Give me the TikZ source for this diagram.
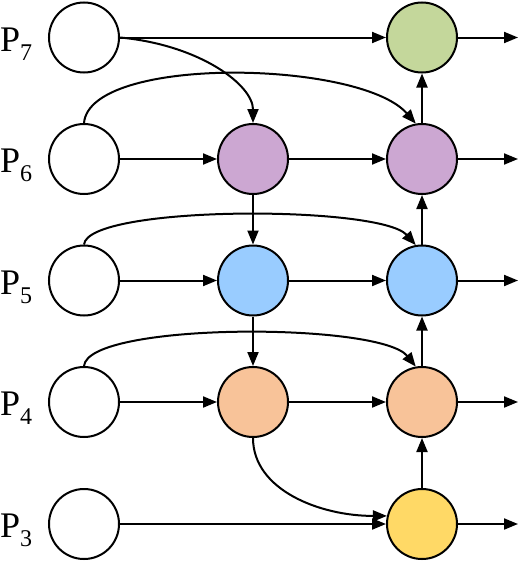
\documentclass[tikz,border=0pt]{standalone}
\usepackage{fontspec}
\setmainfont{Liberation Serif}
\usetikzlibrary{arrows.meta}
\definecolor{cgreen}{RGB}{196,215,155}
\definecolor{cpurple}{RGB}{204,167,210}
\definecolor{cblue}{RGB}{153,204,255}
\definecolor{corange}{RGB}{248,195,153}
\definecolor{cyellow}{RGB}{255,217,102}
\tikzset{
  nd/.style={circle, draw=black, line width=2pt, minimum size=70pt, inner sep=0pt},
  arr/.style={line width=2pt, -{Triangle[length=14pt,width=11pt]}},
  lbl/.style={anchor=base west, inner sep=0pt, font=\fontsize{36}{36}\selectfont},
}
\newcommand{\sublbl}[1]{P\raisebox{-0.25em}{\fontsize{24}{24}\selectfont #1}}
\begin{document}
\begin{tikzpicture}[x=1pt,y=1pt]
\useasboundingbox (0,0) rectangle (519,-570);
% left column
\node[nd, fill=white] (L7) at (84,-37.5) {};
\node[nd, fill=white] (L6) at (84,-159) {};
\node[nd, fill=white] (L5) at (84,-280.5) {};
\node[nd, fill=white] (L4) at (84,-402) {};
\node[nd, fill=white] (L3) at (84,-524) {};
% middle column
\node[nd, fill=cpurple] (M6) at (253,-159) {};
\node[nd, fill=cblue] (M5) at (253,-280.5) {};
\node[nd, fill=corange] (M4) at (253,-402) {};
% right column
\node[nd, fill=cgreen] (R7) at (422,-37.5) {};
\node[nd, fill=cpurple] (R6) at (422,-159) {};
\node[nd, fill=cblue] (R5) at (422,-280.5) {};
\node[nd, fill=corange] (R4) at (422,-402) {};
\node[nd, fill=cyellow] (R3) at (422,-524) {};
% output ends
\coordinate (O7) at (518,-37.5);
\coordinate (O6) at (518,-159);
\coordinate (O5) at (518,-280.5);
\coordinate (O4) at (518,-402);
\coordinate (O3) at (518,-524);
% labels
\node[lbl] (T7) at (0,-51) {\sublbl{7}};
\node[lbl] (T6) at (0,-172.5) {\sublbl{6}};
\node[lbl] (T5) at (0,-294) {\sublbl{5}};
\node[lbl] (T4) at (0,-415.5) {\sublbl{4}};
\node[lbl] (T3) at (0,-537.5) {\sublbl{3}};
% horizontals
\draw[arr] (L7) -- (R7);
\draw[arr] (L6) -- (M6);
\draw[arr] (M6) -- (R6);
\draw[arr] (L5) -- (M5);
\draw[arr] (M5) -- (R5);
\draw[arr] (L4) -- (M4);
\draw[arr] (M4) -- (R4);
\draw[arr] (L3) -- (R3);
\foreach \i in {7,6,5,4,3} { \draw[arr] (R\i) -- (O\i); }
% verticals
\draw[arr] (M6) -- (M5);
\draw[arr] (M5) -- (M4);
\draw[arr] (R3) -- (R4);
\draw[arr] (R4) -- (R5);
\draw[arr] (R5) -- (R6);
\draw[arr] (R6) -- (R7);
% curves
\draw[arr] (L7.east) .. controls (200,-45) and (253,-85) .. (M6.north);
\draw[arr] (L6.north) .. controls (90,-55) and (360,-60) .. (R6.100);
\draw[arr] (L5.north) .. controls (88,-205) and (380,-205) .. (R5.100);
\draw[arr] (L4.north) .. controls (88,-322) and (380,-322) .. (R4.100);
\draw[arr] (M4.south) .. controls (253,-490) and (320,-516) .. (R3.167);
\end{tikzpicture}
\end{document}
